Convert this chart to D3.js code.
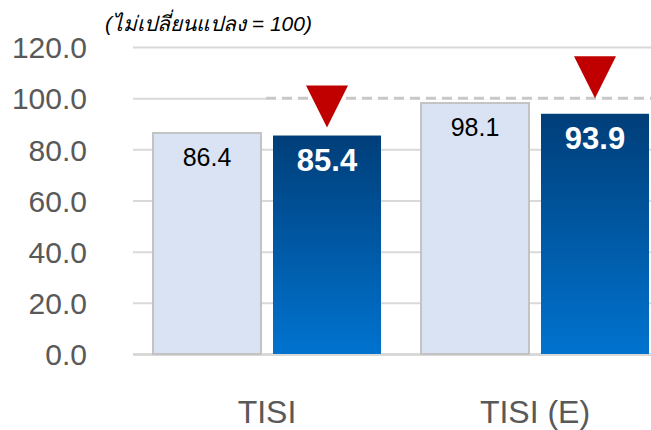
<!DOCTYPE html>
<html>
<head>
<meta charset="utf-8">
<script src="https://cdn.jsdelivr.net/npm/d3@7"></script>
<style>
  body { margin: 0; background: #fff; }
  svg text { font-family: "Liberation Sans", Arial, sans-serif; }
</style>
</head>
<body>
<svg id="chart" width="651" height="430"></svg>
<script>
// datos del grafico
const categories = ['TISI', 'TISI (E)'];
const series = ['prev', 'curr'];
const prevValues = [86.4, 98.1];
const currValues = [85.4, 93.9];
const markerValues = [88.5, 100];   // punta de los triangulos rojos
const yTicks = [0, 20, 40, 60, 80, 100, 120];
const refValue = 100;
const titleText = '(ไม่เปลี่ยนแปลง = 100)';

const svg = d3.select('#chart');
const margin = { top: 47, bottom: 76, left: 133 };
const height = 430 - margin.bottom;

const y = d3.scaleLinear().domain([0, 120]).range([height, margin.top]);
const x0 = d3.scaleBand().domain(categories).range([margin.left, 669]);
const x1 = d3.scaleBand().domain(series).range([20, 248]).paddingInner(0.1);

// gradiente de las barras oscuras
const defs = svg.append('defs');
const grad = defs.append('linearGradient')
    .attr('id', 'blueGrad')
    .attr('x1', 0).attr('y1', 0).attr('x2', 0).attr('y2', 1);
grad.append('stop').attr('offset', '0%').attr('stop-color', '#003e79');
grad.append('stop').attr('offset', '100%').attr('stop-color', '#0073cf');

// rejilla y eje Y
const axisY = d3.axisLeft(y)
    .tickValues(yTicks)
    .tickFormat(d3.format('.1f'))
    .tickSizeInner(-(651 - margin.left))
    .tickSizeOuter(0)
    .tickPadding(46);

const gy = svg.append('g')
    .attr('transform', 'translate(' + margin.left + ',0)')
    .call(axisY);
gy.select('.domain').remove();
gy.selectAll('.tick line')
    .attr('stroke', '#d9d9d9')
    .attr('stroke-width', d => d === 0 ? 3 : 2);
gy.selectAll('.tick text')
    .attr('fill', '#595959')
    .style('font-size', '30px')
    .attr('dy', '0.36em');

// linea discontinua de referencia
const refStart = x0(categories[0]) + x1('curr') - 7;
svg.append('line')
    .attr('x1', refStart).attr('x2', 651)
    .attr('y1', y(refValue)).attr('y2', y(refValue))
    .attr('stroke', '#ffffff').attr('stroke-width', 3);
svg.append('line')
    .attr('x1', refStart).attr('x2', 651)
    .attr('y1', y(refValue)).attr('y2', y(refValue))
    .attr('stroke', '#c8c8c8').attr('stroke-width', 3)
    .attr('stroke-dasharray', '10,6');

const rows = categories.map((c, i) => ({ cat: c, prev: prevValues[i], curr: currValues[i], mark: markerValues[i] }));

const groups = svg.selectAll('.grupo')
    .data(rows)
    .enter().append('g')
    .attr('class', 'grupo')
    .attr('transform', d => 'translate(' + x0(d.cat) + ',0)');

// barras claras
groups.append('rect')
    .attr('x', x1('prev'))
    .attr('width', x1.bandwidth())
    .attr('y', d => y(d.prev))
    .attr('height', d => y(0) - y(d.prev))
    .attr('fill', '#dae3f3')
    .attr('stroke', '#c3c3c3')
    .attr('stroke-width', 2);

groups.append('text')
    .attr('x', x1('prev') + x1.bandwidth() / 2)
    .attr('y', d => y(d.prev) + 33)
    .attr('text-anchor', 'middle')
    .style('font-size', '25px')
    .attr('fill', '#000')
    .text(d => d.prev.toFixed(1));

// barras oscuras
groups.append('rect')
    .attr('x', x1('curr'))
    .attr('width', x1.bandwidth())
    .attr('y', d => y(d.curr))
    .attr('height', d => y(0) - y(d.curr))
    .attr('fill', 'url(#blueGrad)');

groups.append('text')
    .attr('x', x1('curr') + x1.bandwidth() / 2)
    .attr('y', d => y(d.curr) + 35)
    .attr('text-anchor', 'middle')
    .style('font-size', '31px')
    .style('font-weight', 'bold')
    .attr('fill', '#fff')
    .text(d => d.curr.toFixed(1));

// triangulos rojos
groups.append('path')
    .attr('d', d => {
        const cx = x1('curr') + x1.bandwidth() / 2;
        const ty = y(d.mark);
        return 'M' + (cx - 21) + ',' + (ty - 42) + 'L' + (cx + 21) + ',' + (ty - 42) + 'L' + cx + ',' + ty + 'Z';
    })
    .attr('fill', '#c00000');

// etiquetas de categoria
groups.append('text')
    .attr('x', x0.bandwidth() / 2)
    .attr('y', 423)
    .attr('text-anchor', 'middle')
    .style('font-size', '32px')
    .attr('fill', '#595959')
    .text(d => d.cat);

// titulo
svg.append('text')
    .attr('x', 105)
    .attr('y', 31)
    .style('font-size', '21px')
    .style('font-style', 'italic')
    .attr('fill', '#000')
    .text(titleText);
</script>
</body>
</html>
